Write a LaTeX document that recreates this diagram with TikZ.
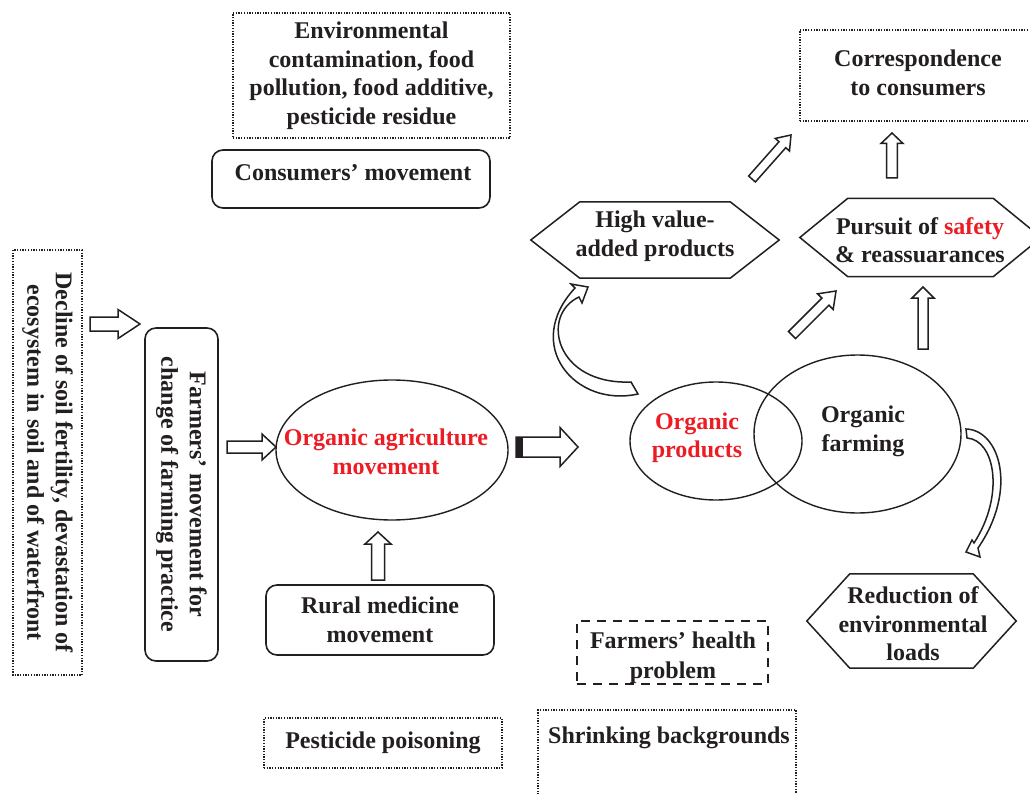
\documentclass[tikz,border=0pt]{standalone}
\usepackage{fontspec}
\setmainfont{Liberation Serif}
\usetikzlibrary{calc,shapes.geometric}
\definecolor{ink}{RGB}{35,31,32}
\definecolor{hot}{RGB}{237,28,36}
\tikzset{
 txt/.style={font=\bfseries\fontsize{24}{28.5}\selectfont, text=ink, align=center, inner sep=0pt},
 dotbox/.style={draw=ink, line width=1.3pt, dash pattern=on 1.3pt off 1.4pt},
 dashbox/.style={draw=ink, line width=1.6pt, dash pattern=on 9pt off 7pt},
 roundbox/.style={draw=ink, line width=1.6pt, rounded corners=11pt},
 oval/.style={ellipse, draw=ink, line width=1.4pt, inner sep=0pt},
 blockarrow/.style={draw=ink, line width=1.5pt, fill=white, line join=miter},
 hexline/.style={draw=ink, line width=1.5pt, line join=miter},
}
% block arrow: #1 tail, #2 tip, #3 shaft half width, #4 head half width, #5 head length
\newcommand\barrow[5]{%
 \coordinate (ah) at ($(#2)!#5!(#1)$);
 \draw[blockarrow] ($(#1)!#3!90:(#2)$) -- ($(ah)!#3!-90:(#1)$) -- ($(ah)!#4!-90:(#1)$) -- (#2)
   -- ($(ah)!#4!90:(#1)$) -- ($(ah)!#3!90:(#1)$) -- ($(#1)!#3!-90:(#2)$) -- cycle;}
\newcommand\hexagon[2]{\draw[hexline] (#1.west) -- ([xshift=#2]#1.north west) -- ([xshift=-#2]#1.north east)
   -- (#1.east) -- ([xshift=-#2]#1.south east) -- ([xshift=#2]#1.south west) -- cycle;}
\begin{document}
\begin{tikzpicture}[x=1pt,y=-1pt]
\useasboundingbox (0,0) rectangle (1030,794);
\fill[white] (0,0) rectangle (1030,794);

% boxes
\node[txt, dotbox, minimum width=277pt, minimum height=125pt] (env) at (371.5,75.5)
  {Environmental\\contamination, food\\pollution, food additive,\\pesticide residue};
\node[roundbox, minimum width=278pt, minimum height=58pt] (cons) at (351,179) {};
\node[txt] (conslab) at (353,173) {Consumers’ movement};
\node[dotbox, minimum width=240pt, minimum height=91pt] (corr) at (920,75.5) {};
\node[txt] (corrlab) at (918,73) {Correspondence\\to consumers};

\node[txt, minimum width=248pt, minimum height=76pt] (hva) at (655,240) {};
\node[txt] (hvalab) at (655,236) {High value-\\added products};
\hexagon{hva}{49pt}
\node[txt, minimum width=241pt, minimum height=78pt] (safe) at (920.5,237.5) {};
\node[txt] (safelab) at (920,240) {Pursuit of \textcolor{hot}{safety}\\\& reassuarances};
\hexagon{safe}{48pt}

\node[txt, dotbox, rotate=-90, minimum width=425pt, minimum height=69pt] (decl) at (47.5,462.5)
  {Decline of soil fertility, devastation of\\ecosystem in soil and of waterfront};
\node[txt, roundbox, rotate=-90, minimum width=333pt, minimum height=73pt] (farmers) at (181.5,494.5)
  {Farmers’ movement for\\change of farming practice};

\node[oval, minimum width=232pt, minimum height=140pt] (oam) at (392,450) {};
\node[txt, text=hot] (oamlab) at (386,452) {Organic agriculture\\movement};

\node[oval, minimum width=172pt, minimum height=118pt] (prod) at (716,441) {};
\node[oval, minimum width=207pt, minimum height=158pt] (farm) at (857.5,434) {};
\node[txt, text=hot] (prodlab) at (697,437.5) {Organic\\products};
\node[txt] (farmlab) at (863,431.5) {Organic\\farming};

\node[txt, minimum width=209pt, minimum height=94pt] (redu) at (911.5,621) {};
\node[txt] (redulab) at (913,624) {Reduction of\\environmental\\loads};
\hexagon{redu}{43pt}

\node[txt, roundbox, minimum width=228pt, minimum height=70pt] (rural) at (380,620)
  {Rural medicine\\movement};
\node[dashbox, minimum width=191pt, minimum height=63pt] (health) at (672.5,652.5) {};
\node[txt, font=\bfseries\fontsize{24}{30}\selectfont] (healthlab) at (673,658) {Farmers’ health\\problem};
\node[txt, dotbox, minimum width=238pt, minimum height=50pt] (pest) at (383,743) {Pesticide poisoning};
\node[dotbox, minimum width=258pt, minimum height=100pt] (shrink) at (667,760) {};
\node[txt] (shrinklab) at (669,738) {Shrinking backgrounds};

% straight block arrows
\coordinate (a1s) at (90,324);  \coordinate (a1e) at (140,324);
\barrow{a1s}{a1e}{7pt}{14.5pt}{22pt}
\coordinate (a2s) at (227,447); \coordinate (a2e) at (276,447);
\barrow{a2s}{a2e}{6pt}{13pt}{14pt}
\coordinate (a3s) at (516,447); \coordinate (a3e) at (578,447);
\barrow{a3s}{a3e}{10pt}{19.5pt}{18pt}
\fill[ink] (516,437) rectangle (523,457);
\coordinate (a4s) at (378,580); \coordinate (a4e) at (378,532);
\barrow{a4s}{a4e}{6.5pt}{13pt}{12pt}
\coordinate (a5s) at (792,335); \coordinate (a5e) at (836,291);
\barrow{a5s}{a5e}{5pt}{11pt}{15pt}
\coordinate (a6s) at (923,349); \coordinate (a6e) at (923,287);
\barrow{a6s}{a6e}{5pt}{11pt}{11pt}
\coordinate (a7s) at (752,179); \coordinate (a7e) at (791,135);
\barrow{a7s}{a7e}{4.5pt}{9.5pt}{13pt}
\coordinate (a8s) at (892,178); \coordinate (a8e) at (892,133);
\barrow{a8s}{a8e}{5.3pt}{11pt}{10.5pt}

% curved block arrows
\draw[blockarrow] (638,394) .. controls (575,408) and (522,345) .. (575,288) -- (571,284) -- (588,287)
  -- (582,303) -- (579,297) .. controls (540,315) and (555,385) .. (631,382) -- cycle;
\draw[blockarrow] (966,429) .. controls (1000,430) and (1018,490) .. (978,548) -- (980,557) -- (966,552)
  -- (972,540) -- (974,543) .. controls (1005,495) and (995,440) .. (967,438) -- cycle;
\end{tikzpicture}
\end{document}
